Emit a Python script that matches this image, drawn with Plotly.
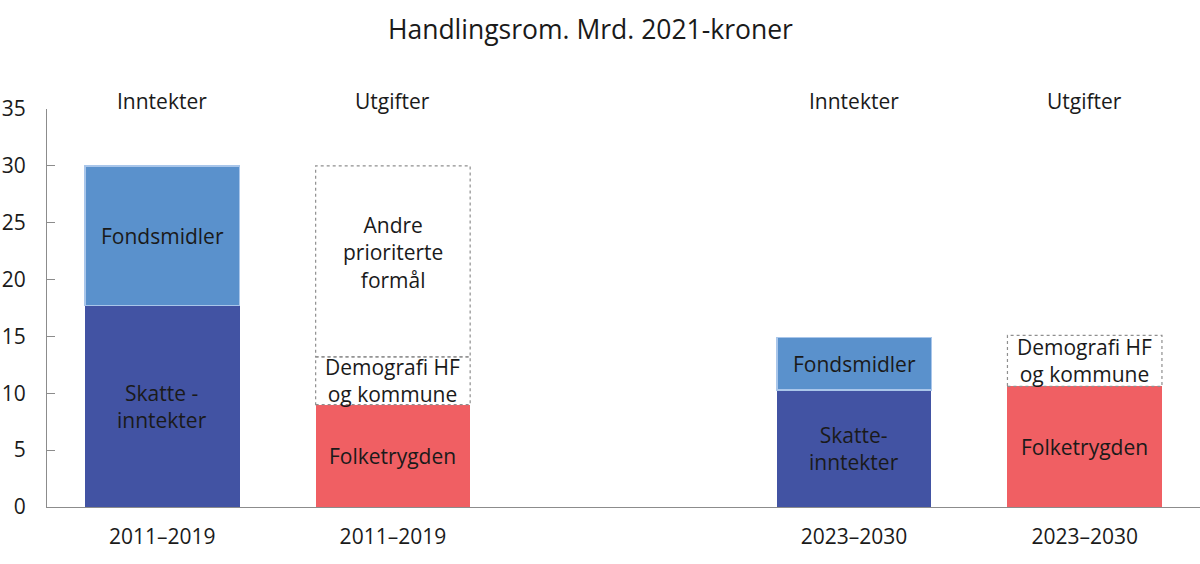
import plotly.graph_objects as go

# --- data ---
periods = ["2011–2019", "2011–2019", "2023–2030", "2023–2030"]
sides = ["Inntekter", "Utgifter", "Inntekter", "Utgifter"]

skatt = [17.7, None, 10.3, None]
fond = [12.3, None, 4.6, None]
folketrygd = [None, 9.0, None, 10.6]
demografi = [None, 4.2, None, 4.5]
andre = [None, 16.8, None, None]

skatt_labels = ["Skatte -<br>inntekter", None, "Skatte-<br>inntekter", None]

keys = [f"{s} {p}" for s, p in zip(sides, periods)]
cat_order = keys[:2] + ["mellomrom"] + keys[2:]

FONT = "Open Sans"
TXT = "#1a1a1a"
FS = 21
BAR_W = 0.67


def label(k, y, text, shift=0):
    fig.add_annotation(x=k, y=y, yshift=shift, text=text, showarrow=False,
                       font=dict(size=FS, color=TXT, family=FONT))


def dotted_box(k, y0, y1):
    fig.add_shape(type="rect", xref="x", yref="y", x0=k, x1=k, x0shift=-BAR_W / 2,
                  x1shift=BAR_W / 2, y0=y0, y1=y1,
                  line=dict(color="#8f8f8f", width=1.2, dash="dot"))


fig = go.Figure()

fig.add_trace(go.Bar(x=keys, y=skatt, marker=dict(color="#4253A3", line=dict(width=0)),
                     width=BAR_W, name="Skatteinntekter"))
fig.add_trace(go.Bar(x=keys, y=fond, marker=dict(color="#5A91CC", line=dict(color="#A9C6EA", width=1.5)),
                     width=BAR_W, name="Fondsmidler"))
fig.add_trace(go.Bar(x=keys, y=folketrygd, marker=dict(color="#F05F63", line=dict(width=0)),
                     width=BAR_W, name="Folketrygden"))
fig.add_trace(go.Bar(x=keys, y=demografi, marker=dict(color="white", line=dict(width=0)),
                     width=BAR_W, name="Demografi"))
fig.add_trace(go.Bar(x=keys, y=andre, marker=dict(color="white", line=dict(width=0)),
                     width=BAR_W, name="Andre"))

for i, k in enumerate(keys):
    if skatt[i]:
        label(k, skatt[i] / 2, skatt_labels[i])
    if fond[i]:
        label(k, skatt[i] + fond[i] / 2, "Fondsmidler")
    if folketrygd[i]:
        label(k, folketrygd[i] / 2, "Folketrygden")
    if demografi[i]:
        base = folketrygd[i]
        label(k, base + demografi[i] / 2, "Demografi HF<br>og kommune")
        dotted_box(k, base, base + demografi[i])
    if andre[i]:
        base = folketrygd[i] + (demografi[i] or 0)
        label(k, base + andre[i] / 2, "Andre<br>prioriterte<br>formål", shift=9)
        dotted_box(k, base, base + andre[i])
    fig.add_annotation(x=k, y=35, yshift=8, text=sides[i], showarrow=False,
                       font=dict(size=FS, color=TXT, family=FONT))

fig.update_layout(
    barmode="stack",
    width=1200, height=564,
    margin=dict(l=47, r=0, t=109, b=57),
    paper_bgcolor="white", plot_bgcolor="white",
    showlegend=False,
    font=dict(family=FONT, size=FS, color=TXT),
    title=dict(text="Handlingsrom. Mrd. 2021-kroner", x=0.492, xanchor="center",
               y=0.947, yanchor="middle", font=dict(size=26.5, color=TXT, family=FONT)),
    xaxis=dict(type="category", categoryorder="array", categoryarray=cat_order,
               range=[-0.5, 4.5], tickvals=keys, ticktext=periods, showgrid=False,
               showline=True, linecolor="#8c8c8c", linewidth=1.2, ticks="",
               ticklabelstandoff=11, automargin=False, tickfont=dict(size=FS, color=TXT)),
    yaxis=dict(range=[0, 35], dtick=5, showgrid=False, zeroline=False, showline=True,
               linecolor="#8c8c8c", linewidth=1.2, ticks="inside", ticklen=8,
               tickcolor="#8c8c8c", tickfont=dict(size=FS, color=TXT),
               ticklabelstandoff=16, automargin=False),
)

# drop the browser's default 8px body margin so the figure sits at the page corner
fig.write_html("out.html", config={"displayModeBar": False},
               post_script="document.body.style.margin='0';")
